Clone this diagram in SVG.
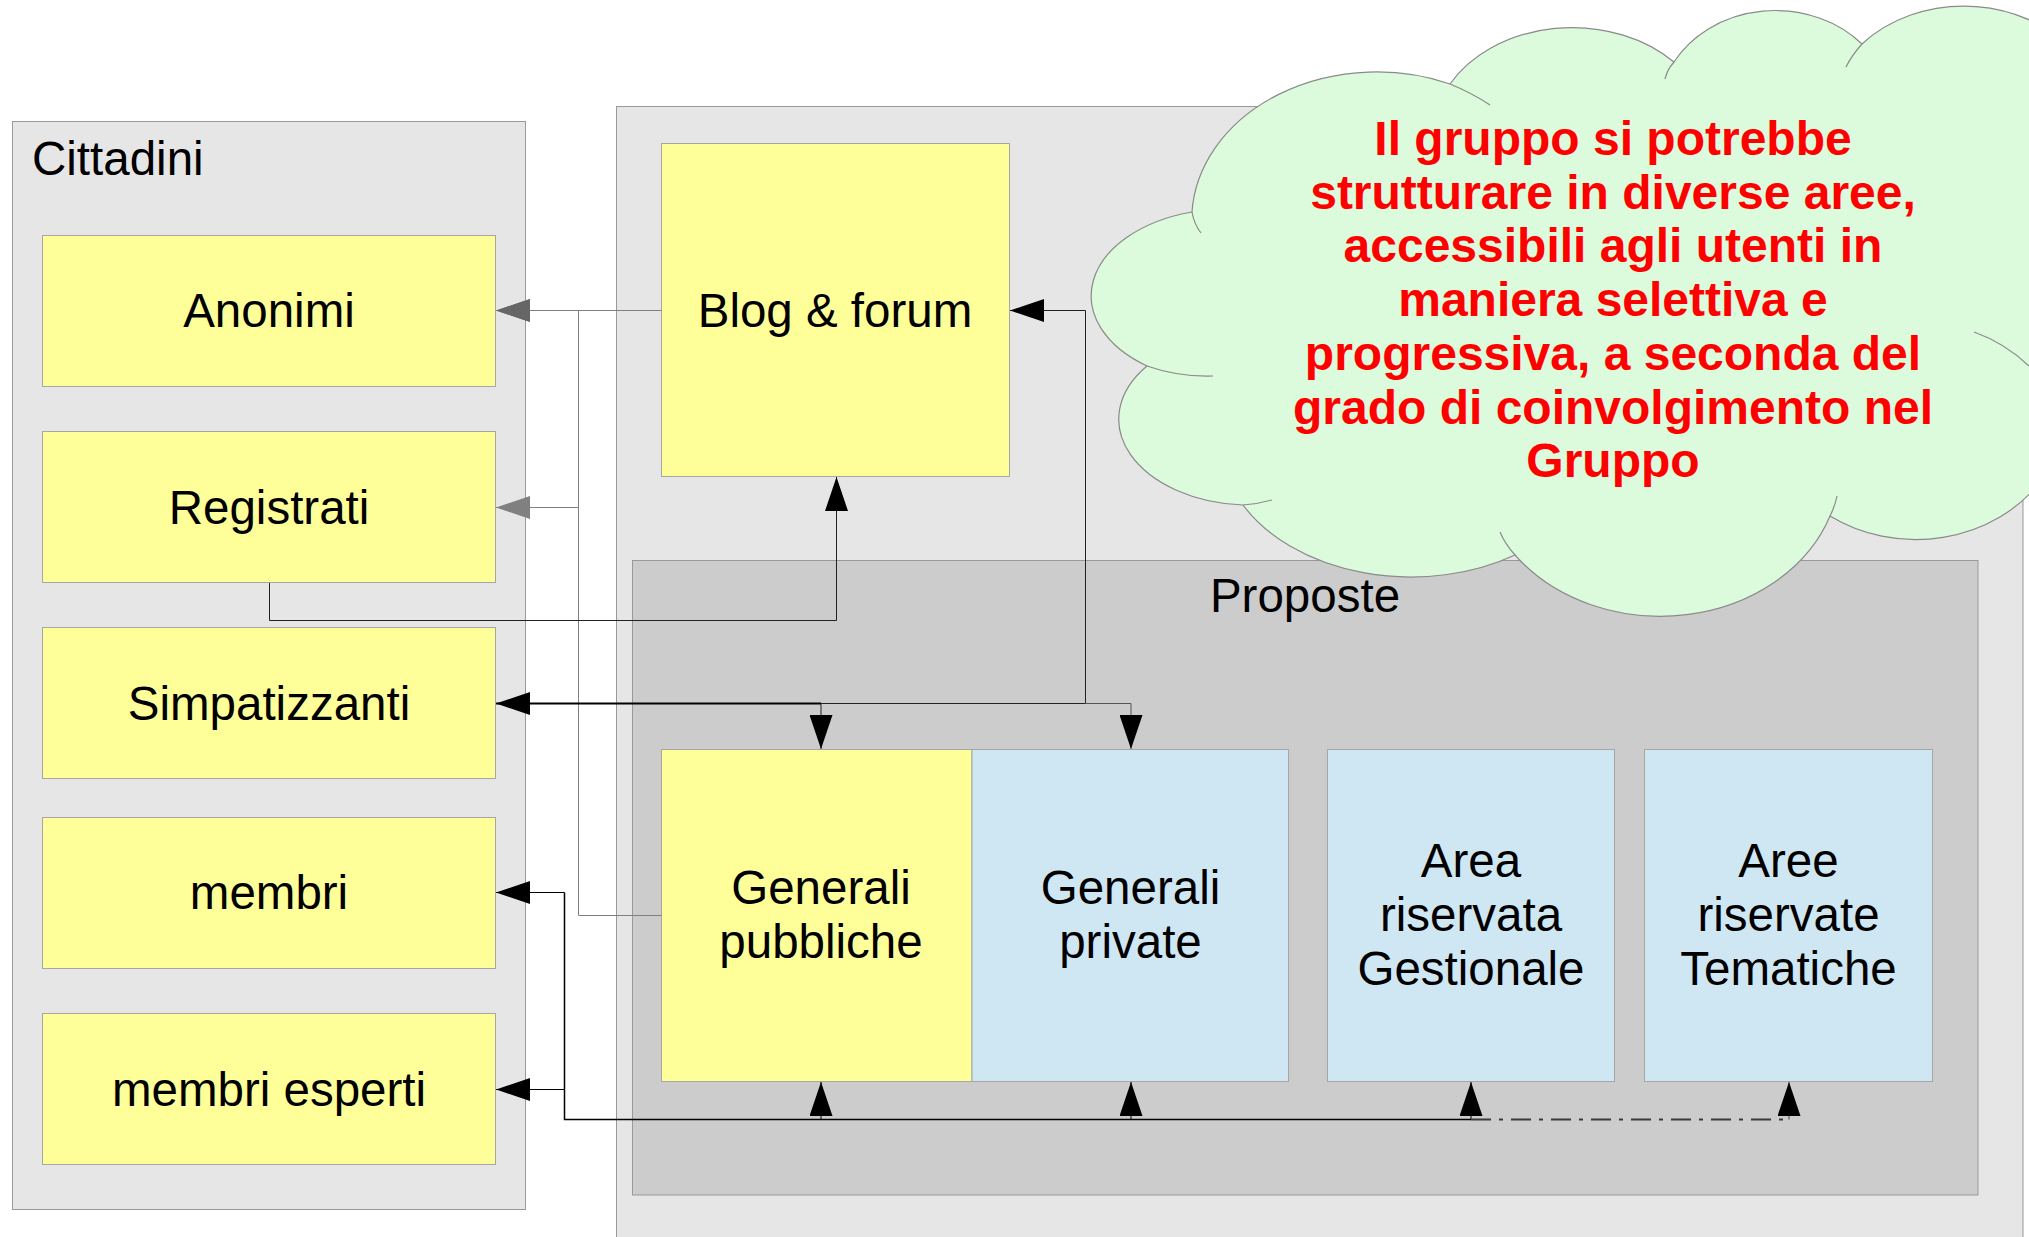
<svg xmlns="http://www.w3.org/2000/svg" width="2029" height="1237" viewBox="0 0 2029 1237">
<defs>
<style>
.ctr{fill:#e6e6e6;stroke:#999;stroke-width:1}
.prop{fill:#cccccc;stroke:#999;stroke-width:1}
.y{fill:#ffff99;stroke:#a6a6a6;stroke-width:1}
.b{fill:#cfe6f3;stroke:#a6a6a6;stroke-width:1}
.t{font-family:"Liberation Sans",Arial,sans-serif;font-size:47.5px;fill:#000;text-anchor:middle}
.tl{font-family:"Liberation Sans",Arial,sans-serif;font-size:47.5px;fill:#000}
.cl{font-family:"Liberation Sans",Arial,sans-serif;font-weight:bold;font-size:48px;fill:#ff0000;text-anchor:middle}
.cg{fill:none;stroke:#808080;stroke-width:1}
.ck{fill:none;stroke:#000;stroke-width:1}
.cloud{fill:#dcfadc;stroke:#8a8a8a;stroke-width:1.2}
.tail{fill:none;stroke:#8a8a8a;stroke-width:1.2}
</style>
<marker id="ah" markerUnits="userSpaceOnUse" markerWidth="34" markerHeight="23" viewBox="0 0 34 23" refX="34" refY="11.5" orient="auto"><path d="M0,0L34,11.5L0,23z" fill="#000"/></marker>
<marker id="ahg1" markerUnits="userSpaceOnUse" markerWidth="34" markerHeight="23" viewBox="0 0 34 23" refX="34" refY="11.5" orient="auto"><path d="M0,0L34,11.5L0,23z" fill="#666"/></marker>
<marker id="ahg2" markerUnits="userSpaceOnUse" markerWidth="34" markerHeight="23" viewBox="0 0 34 23" refX="34" refY="11.5" orient="auto"><path d="M0,0L34,11.5L0,23z" fill="#808080"/></marker>
</defs>
<rect width="2029" height="1237" fill="#fff"/>

<g id="area-gruppo"><rect class="ctr" x="616.5" y="106.5" width="1406.5" height="1140"/></g>
<g id="cittadini"><rect class="ctr" x="12.5" y="121.5" width="513" height="1088"/><text class="tl" x="32" y="175">Cittadini</text></g>
<g id="proposte"><rect class="prop" x="632.5" y="560.5" width="1345.5" height="634.5"/><text class="t" x="1305" y="612">Proposte</text></g>

<g id="anonimi"><rect class="y" x="42.5" y="235.5" width="453" height="151"/><text class="t" x="269" y="327">Anonimi</text></g>
<g id="registrati"><rect class="y" x="42.5" y="431.5" width="453" height="151"/><text class="t" x="269" y="523.5">Registrati</text></g>
<g id="simpatizzanti"><rect class="y" x="42.5" y="627.5" width="453" height="151"/><text class="t" x="269" y="720">Simpatizzanti</text></g>
<g id="membri"><rect class="y" x="42.5" y="817.5" width="453" height="151"/><text class="t" x="269" y="909">membri</text></g>
<g id="membri-esperti"><rect class="y" x="42.5" y="1013.5" width="453" height="151"/><text class="t" x="269" y="1106">membri esperti</text></g>

<g id="blog-forum"><rect class="y" x="661.5" y="143.5" width="348" height="333"/><text class="t" x="835" y="327">Blog &amp; forum</text></g>
<g id="generali-pubbliche"><rect class="y" x="661.5" y="749.5" width="310.5" height="332"/><text class="t" x="821" y="904">Generali</text><text class="t" x="821" y="958">pubbliche</text></g>
<g id="generali-private"><rect class="b" x="972" y="749.5" width="316.5" height="332"/><text class="t" x="1130.5" y="904">Generali</text><text class="t" x="1130.5" y="958">private</text></g>
<g id="area-gestionale"><rect class="b" x="1327.5" y="749.5" width="287" height="332"/><text class="t" x="1471" y="877">Area</text><text class="t" x="1471" y="931">riservata</text><text class="t" x="1471" y="985">Gestionale</text></g>
<g id="aree-tematiche"><rect class="b" x="1644.5" y="749.5" width="288" height="332"/><text class="t" x="1788.5" y="877">Aree</text><text class="t" x="1788.5" y="931">riservate</text><text class="t" x="1788.5" y="985">Tematiche</text></g>

<g id="connectors">
<path class="cg" d="M661.5,310.5H496" marker-end="url(#ahg1)"/>
<path class="cg" d="M661.5,915.5H578.5V310.5H496" marker-end="url(#ahg1)"/>
<path class="cg" d="M578.5,507.5H496" marker-end="url(#ahg2)"/>
<path class="ck" style="stroke:#222" d="M269.5,583V620.5H836.5V477" marker-end="url(#ah)"/>
<path class="ck" style="stroke:#222" d="M1085.5,703.5V310.5H1010" marker-end="url(#ah)"/>
<path class="ck" style="stroke:#222" d="M1085.5,703.5H821V749" marker-end="url(#ah)"/>
<path class="ck" style="stroke:#555" d="M1085.5,703.5H1131V749" marker-end="url(#ah)"/>
<path class="ck" style="stroke-width:2" d="M821,703.5H496" marker-end="url(#ah)"/>
<path class="ck" d="M564.5,892.5H496" marker-end="url(#ah)"/>
<path class="ck" d="M564.5,1089.5H496" marker-end="url(#ah)"/>
<path class="ck" style="stroke-width:1.5" d="M564.5,892.5V1119.5H1471"/>
<path class="ck" d="M821,1119.5V1082" marker-end="url(#ah)"/>
<path class="ck" d="M1131,1119.5V1082" marker-end="url(#ah)"/>
<path class="ck" d="M1471,1119.5V1082" marker-end="url(#ah)"/>
<path class="ck" style="stroke:#3a3a3a;stroke-width:2;stroke-dasharray:20 8 4 8" d="M1471,1119.5H1789"/>
<path class="ck" style="stroke:#444" d="M1789,1119.5V1082" marker-end="url(#ah)"/>
</g>

<g id="nota-cloud">
<path class="cloud" d="M1192,212A185,148 0 0 1 1450,84A140,110 0 0 1 1674,62A116,100 0 0 1 1862,44A135,110 0 0 1 2080,60L2090,300L2040,482A150,131 0 0 1 1830,516A180,150 0 0 1 1515,555A190,135 0 0 1 1243,505A132,86 0 0 1 1147,366A137,87 0 0 1 1192,212Z"/>
<path class="tail" d="M1192,212Q1194,224 1201,233"/>
<path class="tail" d="M1450,84Q1472,93 1490,105"/>
<path class="tail" d="M1674,62Q1667,70 1665,79"/>
<path class="tail" d="M1862,44Q1852,55 1846,67"/>
<path class="tail" d="M1974,332Q2005,343 2029,366"/>
<path class="tail" d="M1830,516Q1835,506 1837,496"/>
<path class="tail" d="M1515,555Q1505,544 1500,532"/>
<path class="tail" d="M1243,505Q1258,504 1272,500"/>
<path class="tail" d="M1147,366Q1178,377 1213,376"/>
<text class="cl" x="1613" y="155">Il gruppo si potrebbe</text>
<text class="cl" x="1613" y="208.7">strutturare in diverse aree,</text>
<text class="cl" x="1613" y="262.4">accessibili agli utenti in</text>
<text class="cl" x="1613" y="316.1">maniera selettiva e</text>
<text class="cl" x="1613" y="369.8">progressiva, a seconda del</text>
<text class="cl" x="1613" y="423.5">grado di coinvolgimento nel</text>
<text class="cl" x="1613" y="477.2">Gruppo</text>
</g>
</svg>
